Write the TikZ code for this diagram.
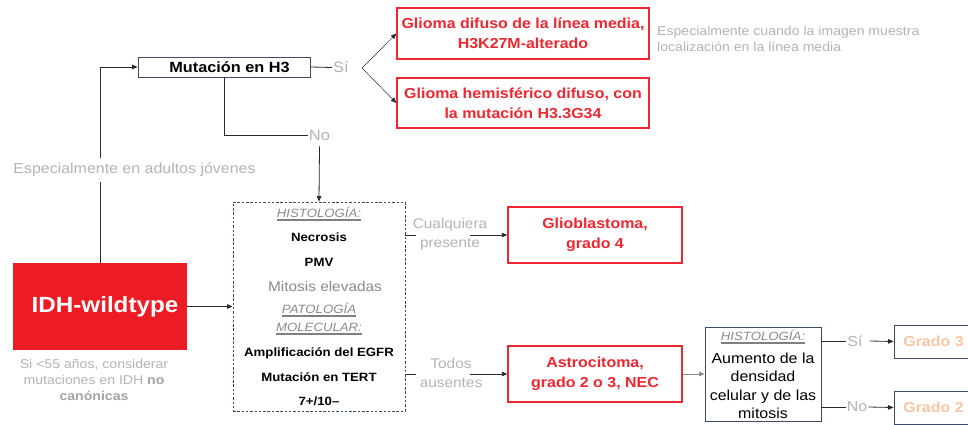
\documentclass[tikz,border=0pt]{standalone}
\usepackage{fontspec}
\setmainfont{Liberation Sans}[FakeStretch=1.1]
\usetikzlibrary{arrows.meta}
\definecolor{idhred}{HTML}{ED1C24}
\definecolor{boxred}{HTML}{EE2730}
\definecolor{navy}{HTML}{3D4B6B}
\definecolor{lgray}{HTML}{B4B4B4}
\definecolor{bgray}{HTML}{A4A4A4}
\definecolor{mgray}{HTML}{8A8A8A}
\definecolor{ulgray}{HTML}{808080}
\definecolor{peach}{HTML}{F9C6A4}
\definecolor{conn}{HTML}{2A2A2A}
\newcommand\fsz[2]{\fontsize{#1}{#2}\selectfont}
\newsavebox\ulbox
\newcommand\ulx[1]{\leavevmode\sbox\ulbox{#1}\rlap{\color{ulgray}\rule[-2.6pt]{\wd\ulbox}{1.4pt}}\usebox\ulbox}
\begin{document}
\begin{tikzpicture}[x=1pt,y=-1pt,
  every node/.style={inner sep=0pt},
  mutbox/.style={draw=navy, line width=0.9pt, minimum width=172pt, minimum height=20pt, font=\bfseries\fsz{14.8}{19}},
  redbox/.style={draw=boxred, line width=1.3pt, text=boxred, align=center, font=\bfseries\fsz{14.5}{20}},
  navybox/.style={draw=navy, line width=0.9pt},
  gbox/.style={draw=navy, line width=0.9pt, minimum width=79pt, minimum height=33pt, text=peach, font=\bfseries\fsz{14.5}{17}},
  note/.style={text=lgray, font=\fsz{12.8}{16.2}},
  lab/.style={text=lgray, font=\fsz{14.5}{19}, inner sep=1pt},
  hd/.style={text=mgray, font=\itshape\fsz{12}{18}, align=center},
  bt/.style={font=\bfseries\fsz{12}{15}},
  cn/.style={draw=conn, line width=0.8pt},
  arr/.style={cn, -{Triangle[length=5.5pt,width=4.5pt]}},
  arrthin/.style={draw=conn, line width=0.5pt, -{Triangle[length=5.5pt,width=4.5pt]}}
]
\clip (0,0) rectangle (968,425);
\useasboundingbox (0,0) rectangle (968,425);
\fill[white] (0,0) rectangle (968,425);

% top branch
\node[mutbox] (mut) at (224,67) {\hspace*{11pt}Mutación en H3};
\node[redbox, minimum width=252pt, minimum height=51pt] (g1) at (523,33.5) {Glioma difuso de la línea media,\\H3K27M-alterado};
\node[redbox, minimum width=252pt, minimum height=50pt] (g2) at (523,103) {Glioma hemisférico difuso, con\\la mutación H3.3G34};
\node[note, anchor=west, align=left] (n1) at (657,39) {Especialmente cuando la imagen muestra\\localización en la línea media};
\node[lab, font=\fsz{15}{19}] (si1) at (341,67.5) {Sí};
\coordinate (fork) at (362,68);
\node[lab, font=\fsz{15}{19}] (no1) at (319.5,135) {No};

% IDH
\node[fill=idhred, minimum width=174pt, minimum height=87pt, text=white, font=\bfseries\fsz{22}{26}] (idh) at (100,306.5) {\hspace*{10pt}IDH-wildtype};
\node[note, align=center] (idhn) at (94,380) {Si <55 años, considerar\\mutaciones en IDH \textcolor{bgray}{\textbf{no}}\\\textcolor{bgray}{\textbf{canónicas}}};

% criteria box
\node[draw=navy, line width=0.8pt, dash pattern=on 2.5pt off 1.8pt, minimum width=172pt, minimum height=209pt] (crit) at (319,306.5) {};
\node[hd] (h1) at (319,214) {\ulx{HISTOLOGÍA:}};
\node[bt] (nec) at (319,237) {Necrosis};
\node[bt] (pmv) at (319,262) {PMV};
\node[text=mgray, font=\fsz{14}{17}] (mit) at (325,286) {Mitosis elevadas};
\node[hd] (h2) at (319,319) {\ulx{PATOLOGÍA}\\\ulx{MOLECULAR:}};
\node[bt] (egfr) at (319,353) {Amplificación del EGFR};
\node[bt] (tert) at (319,377) {Mutación en TERT};
\node[bt] (chr) at (319,401) {7+/10–};

% outcomes
\node[redbox, minimum width=174pt, minimum height=56pt] (glio) at (595,235) {Glioblastoma,\\grado 4};
\node[redbox, minimum width=174pt, minimum height=56pt] (astro) at (595,374) {Astrocitoma,\\grado 2 o 3, NEC};
\node[lab, align=center, font=\fsz{14}{19}] (cual) at (450,234) {Cualquiera\\presente};
\node[lab, align=center, font=\fsz{14}{19}] (todos) at (451,373) {Todos\\ausentes};
\coordinate (a1) at (470,235);
\coordinate (a2) at (470,374);

% second histology
\node[navybox, minimum width=116pt, minimum height=94pt] (hist) at (763,374) {};
\node[hd] (h3) at (763,337) {\ulx{HISTOLOGÍA:}};
\node[align=center, font=\fsz{14.5}{18.5}] (aum) at (763,386) {Aumento de la\\densidad\\celular y de las\\mitosis};
\node[gbox] (gr3) at (933.5,341.5) {Grado 3};
\node[gbox] (gr2) at (933.5,407.5) {Grado 2};
\node[lab] (si2) at (855,341) {Sí};
\node[lab] (no2) at (857,407) {No};

% connectors
\draw[arr] (idh.north) |- (mut.west);
\node[lab, fill=white, inner xsep=2pt, inner ysep=5pt] (esp) at (134.5,170) {Especialmente en adultos jóvenes};
\draw[cn] (mut.east) -- (si1.west);
\draw[arrthin] (fork) -- (g1.west);
\draw[arrthin] (fork) -- (g2.west);
\draw[cn] (mut.south) |- (no1.west);
\draw[arr] ([yshift=-5pt]no1.south) -- (crit.north);
\draw[arr] (idh.east) -- (crit.west);
\draw[cn] (crit.east |- a1) -- ++(11,0);
\draw[arr] (a1) -- (glio.west);
\draw[cn] (crit.east |- a2) -- ++(11,0);
\draw[arr] (a2) -- (astro.west);
\draw[arr, draw=mgray] (astro.east) -- (hist.west);
\draw[cn] (hist.east |- si2) -- (si2.west);
\draw[arr] ([xshift=6pt]si2.east) -- (gr3.west);
\draw[cn] (hist.east |- no2) -- (no2.west);
\draw[arr] (no2.east) -- (gr2.west);
\end{tikzpicture}
\end{document}
